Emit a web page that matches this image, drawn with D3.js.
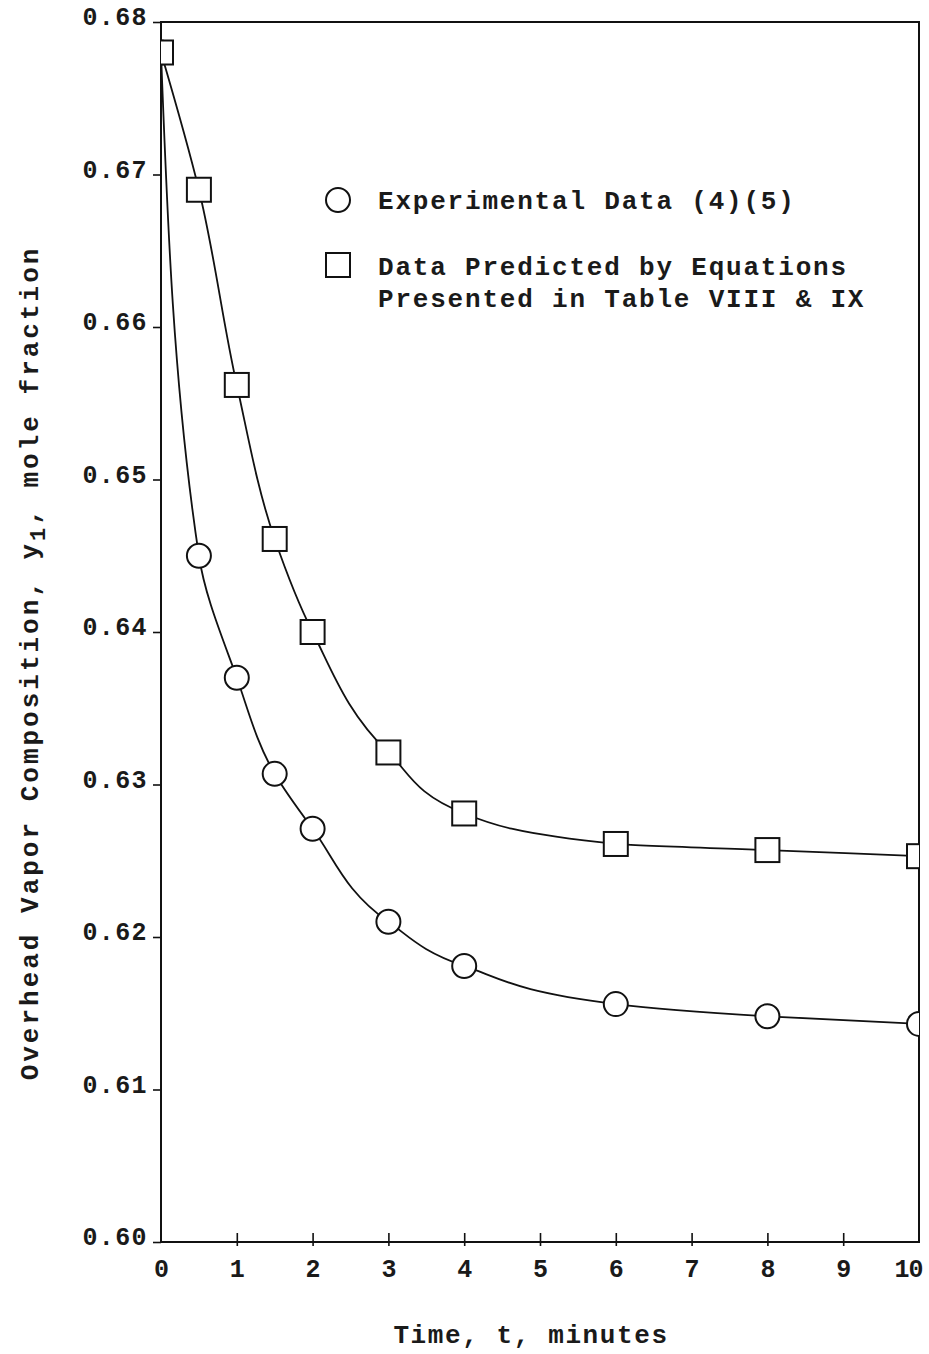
<!DOCTYPE html>
<html>
<head>
<meta charset="utf-8">
<script src="https://cdn.jsdelivr.net/npm/d3@7"></script>
<style>
  html, body { margin: 0; padding: 0; background: #fff; }
  svg { display: block; }
  text { font-family: "Liberation Mono", "DejaVu Sans Mono", monospace; font-weight: bold; fill: #1a1a1a; }
</style>
</head>
<body>
<svg id="chart" width="929" height="1354"></svg>
<script>
// Overhead vapor composition vs. time
const times = [0, 0.5, 1, 1.5, 2, 3, 4, 6, 8, 10];
const experimental = [0.678, 0.645, 0.637, 0.6307, 0.6271, 0.6210, 0.6181, 0.6156, 0.6148, 0.6143];
const predicted = [0.678, 0.669, 0.6562, 0.6461, 0.6400, 0.6321, 0.6281, 0.6261, 0.6257, 0.6253];
const xTicks = [0, 1, 2, 3, 4, 5, 6, 7, 8, 9, 10];
const yTicks = [0.60, 0.61, 0.62, 0.63, 0.64, 0.65, 0.66, 0.67, 0.68];
const legendLabels = ["Experimental Data (4)(5)", ["Data Predicted by Equations", "Presented in Table VIII & IX"]];

const W = 929, H = 1354;
const m = { left: 161, right: 10, top: 22, bottom: 112 };
const svg = d3.select("#chart");

const x = d3.scaleLinear().domain([0, 10]).range([m.left, W - m.right]);
const y = d3.scaleLinear().domain([0.60, 0.68]).range([H - m.bottom, m.top]);

svg.append("defs").append("clipPath").attr("id", "plotClip")
  .append("rect")
  .attr("x", x(0)).attr("y", y(0.68))
  .attr("width", x(10) - x(0)).attr("height", y(0.60) - y(0.68));

// Frame
svg.append("rect")
  .attr("x", x(0)).attr("y", y(0.68))
  .attr("width", x(10) - x(0)).attr("height", y(0.60) - y(0.68))
  .attr("fill", "none").attr("stroke", "#111").attr("stroke-width", 2);

// Y axis
const yAxis = svg.append("g")
  .attr("transform", `translate(${x(0)},0)`)
  .call(d3.axisLeft(y).tickValues(yTicks).tickFormat(d3.format(".2f")).tickSize(8).tickPadding(5));
yAxis.select(".domain").remove();
yAxis.selectAll(".tick line").attr("stroke", "#111").attr("stroke-width", 1.6);
yAxis.selectAll(".tick text")
  .attr("font-size", 25).attr("letter-spacing", 1.4).attr("dy", "0.1em")
  .style("font-family", "Liberation Mono").style("font-weight", "bold").attr("fill", "#1a1a1a");

// X axis: ticks cross the bottom line
const xAxis = svg.append("g")
  .attr("transform", `translate(0,${y(0.60)})`)
  .call(d3.axisBottom(x).tickValues(xTicks).tickFormat(d3.format("d")).tickSize(4).tickPadding(12));
xAxis.select(".domain").remove();
xAxis.selectAll(".tick line").attr("y1", -9).attr("stroke", "#111").attr("stroke-width", 1.6);
xAxis.selectAll(".tick").filter(d => d === 0 || d === 10).select("line").remove();
xAxis.selectAll(".tick text")
  .attr("font-size", 25).attr("dy", "0.75em")
  .style("font-family", "Liberation Mono").style("font-weight", "bold").attr("fill", "#1a1a1a");
xAxis.selectAll(".tick").filter(d => d === 10).select("text")
  .attr("dx", -11).attr("letter-spacing", -1);

// Axis titles
svg.append("text")
  .attr("x", 531).attr("y", 1343)
  .attr("text-anchor", "middle").attr("font-size", 26).attr("letter-spacing", 1.6)
  .text("Time, t, minutes");

const yt = svg.append("text")
  .attr("transform", `translate(38,663) rotate(-90)`)
  .attr("text-anchor", "middle").attr("font-size", 26).attr("letter-spacing", 3);
yt.append("tspan").text("Overhead Vapor Composition, y");
yt.append("tspan").attr("baseline-shift", "-30%").attr("font-size", 22).text("1");
yt.append("tspan").attr("baseline-shift", "0%").text(", mole fraction");

// Curves and markers
const plot = svg.append("g").attr("clip-path", "url(#plotClip)");
const line = d3.line()
  .x(d => x(d[0])).y(d => y(d[1]))
  .curve(d3.curveMonotoneY);

const expPts = times.map((t, i) => [t, experimental[i]]);
const prePts = times.map((t, i) => [t, predicted[i]]);

[expPts, prePts].forEach(pts => {
  plot.append("path").datum(pts).attr("d", line)
    .attr("fill", "none").attr("stroke", "#111").attr("stroke-width", 1.8);
});

plot.selectAll("circle.exp").data(expPts).join("circle")
  .attr("class", "exp")
  .attr("cx", d => x(d[0])).attr("cy", d => y(d[1])).attr("r", 12)
  .attr("fill", "#fff").attr("stroke", "#111").attr("stroke-width", 2);

const sq = 24;
plot.selectAll("rect.pre").data(prePts).join("rect")
  .attr("class", "pre")
  .attr("x", d => x(d[0]) - sq / 2).attr("y", d => y(d[1]) - sq / 2)
  .attr("width", sq).attr("height", sq)
  .attr("fill", "#fff").attr("stroke", "#111").attr("stroke-width", 2);

// Legend
const lg = svg.append("g");
lg.append("circle").attr("cx", 338).attr("cy", 200).attr("r", 12)
  .attr("fill", "#fff").attr("stroke", "#111").attr("stroke-width", 2);
lg.append("text").attr("x", 378).attr("y", 209).attr("font-size", 26).attr("letter-spacing", 1.8)
  .text(legendLabels[0]);
lg.append("rect").attr("x", 326).attr("y", 253).attr("width", 24).attr("height", 24)
  .attr("fill", "#fff").attr("stroke", "#111").attr("stroke-width", 2);
legendLabels[1].forEach((s, i) => {
  lg.append("text").attr("x", 378).attr("y", 275 + i * 32).attr("font-size", 26).attr("letter-spacing", 1.8)
    .text(s);
});
</script>
</body>
</html>
